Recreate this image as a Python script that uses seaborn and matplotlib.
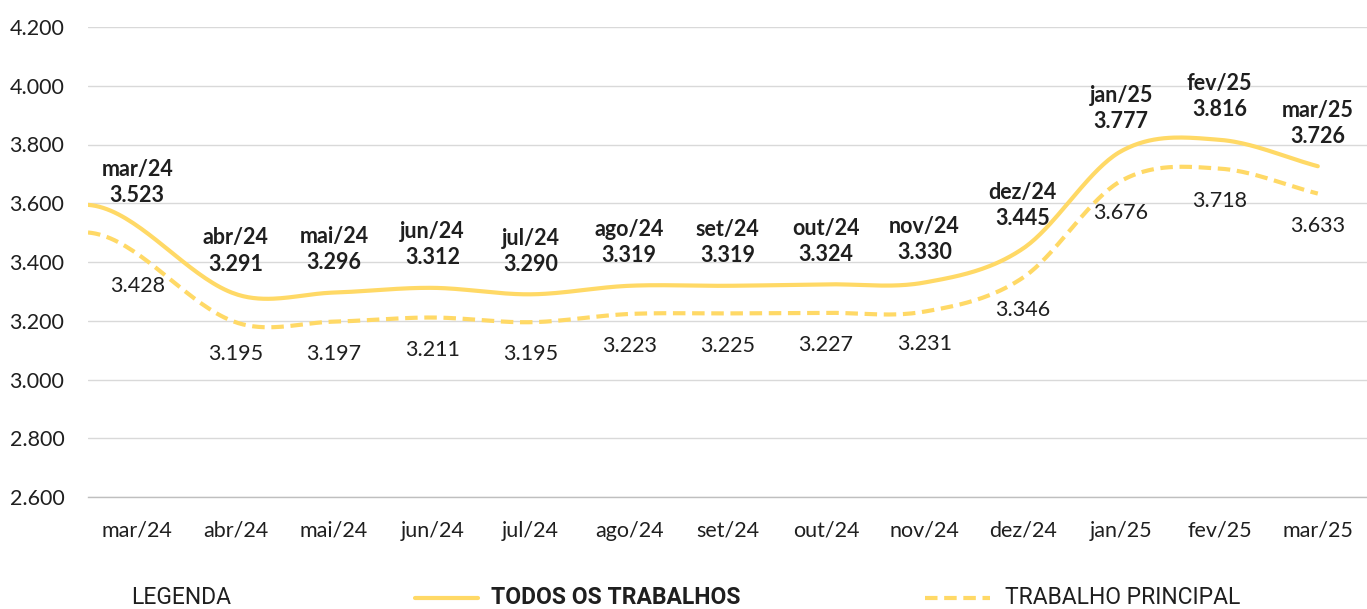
"""Rendimento médio: todos os trabalhos x trabalho principal."""

import matplotlib
matplotlib.use("Agg")
import matplotlib.pyplot as plt
import numpy as np
import pandas as pd
import seaborn as sns
from matplotlib.lines import Line2D

# Dados
MESES = ["mar/24", "abr/24", "mai/24", "jun/24", "jul/24", "ago/24", "set/24",
         "out/24", "nov/24", "dez/24", "jan/25", "fev/25", "mar/25"]
TODOS = [3523, 3291, 3296, 3312, 3290, 3319, 3319, 3324, 3330, 3445, 3777, 3816, 3726]
PRINCIPAL = [3428, 3195, 3197, 3211, 3195, 3223, 3225, 3227, 3231, 3346, 3676, 3718, 3633]
Y_TICKS = [2600, 2800, 3000, 3200, 3400, 3600, 3800, 4000, 4200]

AMARELO = "#FFD966"
TEXTO = "#1F1F1F"
FS = 15.5

sns.set_theme(style="white")
plt.rcParams["font.family"] = ["Lato", "DejaVu Sans"]


def fmt_milhar(v: float) -> str:
    return f"{v:,.0f}".replace(",", ".")


def suaviza(valores, n=40, inicio=-0.5):
    """Spline de Hermite (Catmull-Rom), como a linha suavizada do Excel."""
    p = np.asarray(valores, dtype=float)
    m = np.empty_like(p)
    m[1:-1] = (p[2:] - p[:-2]) / 2
    m[0] = p[1] - p[0]
    m[-1] = p[-1] - p[-2]
    xs, ys = [], []
    for i in range(len(p) - 1):
        t0 = inicio if i == 0 else 0.0
        t = np.linspace(t0, 1, n)
        h00 = 2 * t**3 - 3 * t**2 + 1
        h10 = t**3 - 2 * t**2 + t
        h01 = -2 * t**3 + 3 * t**2
        h11 = t**3 - t**2
        xs.append(i + t)
        ys.append(h00 * p[i] + h10 * m[i] + h01 * p[i + 1] + h11 * m[i + 1])
    return np.concatenate(xs), np.concatenate(ys)


frames = []
for nome, serie in [("TODOS OS TRABALHOS", TODOS), ("TRABALHO PRINCIPAL", PRINCIPAL)]:
    x, y = suaviza(serie)
    frames.append(pd.DataFrame({"x": x, "y": y, "serie": nome}))
df = pd.concat(frames, ignore_index=True)

fig = plt.figure(figsize=(13.67, 6.09), dpi=100)
ax = fig.add_axes([88 / 1367, 1 - 497 / 609, 1 - 88 / 1367, (497 - 27) / 609])

sns.lineplot(data=df, x="x", y="y", style="serie", ax=ax, color=AMARELO,
             linewidth=3, dashes={"TODOS OS TRABALHOS": "", "TRABALHO PRINCIPAL": (3, 1.6)},
             legend=False, sort=False, estimator=None)

ax.set_xlim(-0.5, len(MESES) - 0.5)
ax.set_ylim(Y_TICKS[0], Y_TICKS[-1])
ax.set_yticks(Y_TICKS)
ax.set_yticklabels([fmt_milhar(v) for v in Y_TICKS], fontsize=FS, color=TEXTO)
ax.yaxis.grid(True, color="#D9D9D9", linewidth=1)
ax.set_axisbelow(True)

ax.set_xticks(range(len(MESES)))
ax.set_xticklabels(MESES, fontsize=FS, color=TEXTO)
ax.set_xticks(np.arange(-0.5, len(MESES)), minor=True)
ax.tick_params(axis="x", which="major", length=0, pad=17)
ax.tick_params(axis="x", which="minor", length=10, direction="inout",
               color="#BFBFBF", width=1)
ax.tick_params(axis="y", length=0, pad=17)
ax.set_xlabel("")
ax.set_ylabel("")

sns.despine(ax=ax, left=True)
ax.spines["bottom"].set_color("#BFBFBF")
ax.spines["bottom"].set_linewidth(1)

# Rótulos de dados
for i, mes in enumerate(MESES):
    ax.annotate(f"{mes}\n{fmt_milhar(TODOS[i])}", (i, TODOS[i]),
                xytext=(0, 14), textcoords="offset points", ha="center",
                va="bottom", fontsize=FS, fontweight="bold", color=TEXTO,
                linespacing=1.3)
    ax.annotate(fmt_milhar(PRINCIPAL[i]), (i, PRINCIPAL[i]),
                xytext=(0, -16), textcoords="offset points", ha="center",
                va="top", fontsize=FS, color=TEXTO)

# Legenda
y_leg = 1 - 598 / 609
FS_LEG = 16.5
fig.text(181 / 1367, y_leg, "LEGENDA", ha="center", va="center",
         fontsize=FS_LEG, color=TEXTO, family=["Roboto", "DejaVu Sans"])
fig.add_artist(Line2D([415 / 1367, 478 / 1367], [y_leg, y_leg], color=AMARELO,
                      linewidth=3, transform=fig.transFigure))
fig.text(491 / 1367, y_leg, "TODOS OS TRABALHOS", ha="left", va="center",
         fontsize=FS_LEG, fontweight="bold", color=TEXTO, family=["Roboto", "DejaVu Sans"])
fig.add_artist(Line2D([925 / 1367, 990 / 1367], [y_leg, y_leg], color=AMARELO,
                      linewidth=3, linestyle=(0, (3, 1.6)), transform=fig.transFigure))
fig.text(1005 / 1367, y_leg, "TRABALHO PRINCIPAL", ha="left", va="center",
         fontsize=FS_LEG, color=TEXTO, family=["Roboto", "DejaVu Sans"])

fig.savefig("out.png", dpi=100)
plt.close(fig)
